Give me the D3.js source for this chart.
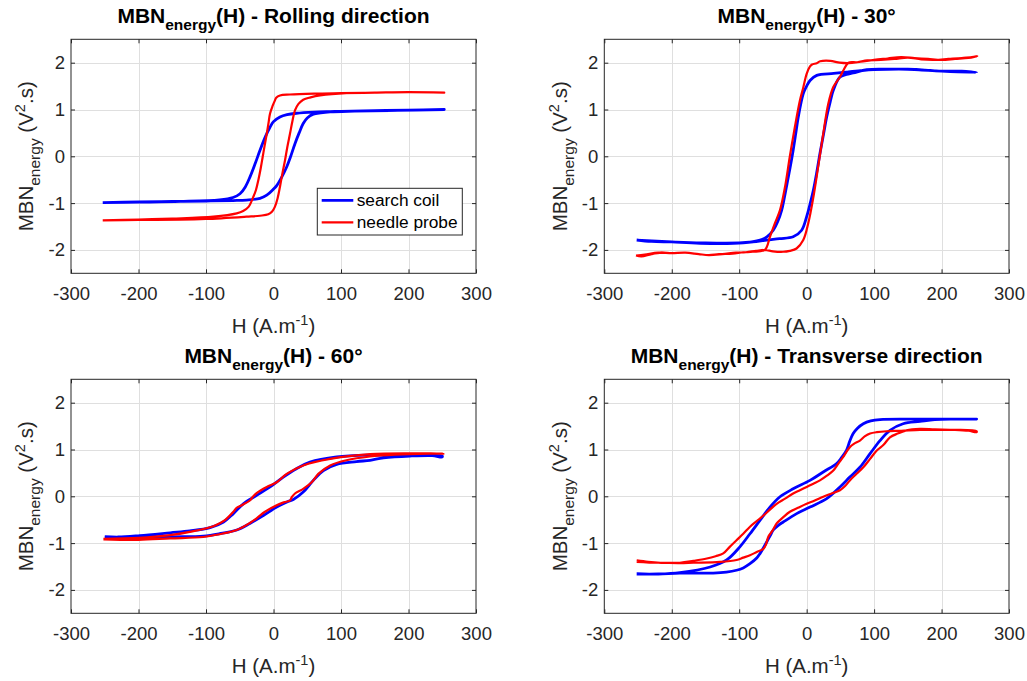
<!DOCTYPE html>
<html>
<head>
<meta charset="utf-8">
<script src="https://cdn.jsdelivr.net/npm/d3@7"></script>
<style>
  body { margin: 0; background: #fff; }
  svg { font-family: "Liberation Sans", Arial, Helvetica, sans-serif; }
</style>
</head>
<body>
<svg id="chart" width="1027" height="681"></svg>
<script>
// axis ticks shared by all four panels
const xTicks = [-300, -200, -100, 0, 100, 200, 300];
const yTicks = [-2, -1, 0, 1, 2];
const xDomain = [-300, 300];
const yDomain = [-2.5, 2.5];

const titles = ['(H) - Rolling direction', '(H) - 30°', '(H) - 60°', '(H) - Transverse direction'];
const seriesNames = ['search coil', 'needle probe'];

// [H, MBN energy]; each loop goes up (H increasing) then back down
const rollingCoil = [
  [-253,-0.99],[-200,-0.975],[-150,-0.965],[-100,-0.955],[-60,-0.945],[-40,-0.935],[-20,-0.9],[-10,-0.83],[0,-0.7],[5,-0.62],
  [12,-0.45],[19.5,-0.23],[25,-0.02],[31.8,0.27],[38,0.5],[44,0.7],[50,0.82],[59,0.9],[70,0.93],[84,0.95],[120,0.965],[180,0.98],[253,1.0],
  [200,0.985],[150,0.975],[100,0.96],[84,0.955],[60,0.945],[34,0.92],[20,0.89],[9.6,0.84],[0,0.74],[-5.2,0.62],[-12,0.42],[-20,0.13],
  [-27,-0.15],[-34.8,-0.44],[-42,-0.66],[-49.6,-0.8],[-60,-0.88],[-80,-0.93],[-138,-0.965],[-200,-0.98],[-253,-0.99]
];
const rollingProbe = [
  [-253,-1.37],[-200,-1.36],[-139,-1.355],[-100,-1.34],[-40,-1.29],[-20,-1.27],[-7.7,-1.24],[-2,-1.18],[2,-1.08],[6,-0.9],[9.6,-0.65],
  [13,-0.38],[17,-0.09],[20.5,0.2],[24.4,0.48],[28,0.75],[31.8,0.98],[37,1.12],[44,1.21],[55,1.26],[69,1.3],[108,1.35],[150,1.36],[200,1.37],[253,1.36],
  [200,1.37],[150,1.36],[100,1.35],[60,1.34],[24.4,1.32],[9.6,1.3],[4,1.25],[2,1.19],[-1.5,1.07],[-5.2,0.91],[-7.5,0.7],[-10,0.48],[-13,0.24],
  [-16,-0.01],[-19,-0.26],[-22.5,-0.51],[-26,-0.72],[-30,-0.87],[-37,-1.08],[-45,-1.17],[-54.5,-1.22],[-89,-1.29],[-150,-1.33],[-200,-1.35],[-253,-1.37]
];
const deg30Coil = [
  [-252,-1.79],[-230,-1.82],[-200,-1.83],[-150,-1.85],[-100,-1.85],[-80,-1.83],[-59,-1.79],[-40,-1.76],[-20,-1.72],[-7.4,-1.58],[0,-1.29],[5,-1.02],
  [10,-0.72],[15,-0.34],[19.7,0.06],[25,0.47],[29.7,0.84],[35,1.17],[39.5,1.41],[49,1.69],[59,1.75],[69,1.78],[89,1.85],[120,1.86],[150,1.86],[200,1.82],[230,1.82],[252,1.79],
  [200,1.82],[150,1.86],[100,1.85],[80,1.83],[59,1.8],[40,1.77],[15,1.73],[5,1.62],[0,1.5],[-5,1.34],[-12.4,0.84],[-16,0.5],[-20,0.13],[-24.5,-0.24],
  [-29,-0.58],[-33,-0.88],[-37,-1.15],[-43,-1.4],[-49.5,-1.58],[-59,-1.72],[-69,-1.79],[-94,-1.85],[-158,-1.86],[-200,-1.83],[-252,-1.79]
];
const deg30Probe = [
  [-253,-2.12],[-245,-2.14],[-230,-2.09],[-215,-2.06],[-200,-2.07],[-180,-2.06],[-160,-2.09],[-145,-2.11],[-125,-2.09],[-105,-2.06],[-90,-2.05],
  [-75,-2.02],[-62,-2.0],[-50,-2.03],[-35,-2.04],[-25,-2.02],[-15,-1.97],[-5,-1.79],[2.4,-1.43],[10,-0.87],[17,-0.23],[24.6,0.48],[32,1.12],
  [39.5,1.48],[49,1.69],[55,1.85],[62,2.0],[75,2.01],[90,2.05],[110,2.06],[130,2.08],[150,2.11],[170,2.07],[190,2.06],[210,2.08],[230,2.1],[245,2.12],[253,2.14],
  [240,2.1],[220,2.08],[200,2.06],[180,2.08],[160,2.1],[140,2.12],[120,2.09],[100,2.06],[80,2.02],[62,1.99],[49,2.0],[35,2.04],[20,2.03],[15,1.99],
  [8,1.96],[5,1.92],[0,1.76],[-5,1.47],[-10,1.19],[-17.4,0.63],[-25,-0.01],[-32,-0.65],[-39.5,-1.15],[-47,-1.43],[-54.4,-1.72],[-62,-2.0],[-80,-2.04],
  [-94,-2.05],[-110,-2.08],[-130,-2.09],[-145,-2.11],[-160,-2.09],[-180,-2.06],[-200,-2.07],[-220,-2.06],[-240,-2.1],[-253,-2.12]
];
const deg60Coil = [
  [-250,-0.88],[-200,-0.88],[-150,-0.865],[-104,-0.85],[-80,-0.8],[-54.5,-0.72],[-35,-0.58],[-15,-0.41],[4.7,-0.23],[20,-0.12],[29.4,-0.07],
  [44,0.09],[59,0.34],[74,0.55],[93.6,0.68],[123,0.74],[143,0.77],[163,0.82],[202,0.86],[235,0.87],[250,0.84],
  [250,0.86],[200,0.88],[143,0.88],[93.6,0.84],[54,0.73],[34,0.59],[14.5,0.41],[-5,0.2],[-25,0.02],[-44.7,-0.16],[-59.5,-0.37],[-74,-0.55],
  [-94,-0.67],[-124,-0.74],[-153,-0.78],[-198,-0.84],[-230,-0.87],[-250,-0.86]
];
const deg60Probe = [
  [-252,-0.92],[-200,-0.93],[-153,-0.9],[-104,-0.87],[-80,-0.81],[-54.5,-0.72],[-35,-0.57],[-25,-0.47],[-12.6,-0.33],[4.7,-0.19],[15,-0.13],
  [24.4,-0.09],[27,-0.02],[31.8,0.06],[44,0.16],[56.6,0.3],[66.4,0.48],[84,0.66],[108,0.77],[143,0.85],[180,0.89],[230,0.91],[252,0.91],
  [200,0.92],[143,0.9],[84,0.8],[44,0.66],[19.5,0.48],[4.7,0.3],[-10,0.2],[-25,0.07],[-30,0.0],[-35,-0.09],[-47,-0.19],[-55,-0.25],[-59.5,-0.33],
  [-72,-0.51],[-89,-0.64],[-124,-0.76],[-153,-0.83],[-200,-0.89],[-252,-0.91]
];
const transCoil = [
  [-252,-1.66],[-220,-1.66],[-188,-1.64],[-138.5,-1.64],[-119,-1.62],[-104,-1.58],[-94,-1.53],[-84,-1.44],[-74,-1.32],[-69,-1.22],[-64,-1.1],
  [-59,-0.97],[-54,-0.84],[-49.5,-0.72],[-42,-0.62],[-34.7,-0.55],[-14.8,-0.37],[5,-0.23],[29.7,-0.05],[49.4,0.2],[64,0.41],[79,0.62],[94,0.91],
  [108.7,1.19],[123.5,1.41],[143,1.55],[168,1.6],[190,1.64],[220,1.65],[252,1.65],
  [200,1.65],[150,1.65],[108.7,1.64],[95,1.61],[84,1.55],[75,1.45],[69,1.34],[64,1.18],[59,0.98],[52,0.83],[44.5,0.7],[24.6,0.52],[5,0.34],
  [-20,0.16],[-39.5,-0.01],[-54.4,-0.23],[-69,-0.51],[-84,-0.8],[-99,-1.08],[-118.6,-1.36],[-143,-1.51],[-188,-1.63],[-220,-1.66],[-252,-1.66]
];
const transProbe = [
  [-252,-1.37],[-235,-1.4],[-217,-1.42],[-188,-1.43],[-168,-1.42],[-128.6,-1.4],[-104,-1.36],[-94,-1.31],[-84,-1.26],[-74,-1.19],[-64,-1.12],
  [-60,-1.02],[-57,-0.87],[-50,-0.72],[-44.5,-0.58],[-35,-0.45],[-24.8,-0.33],[-12,-0.24],[0,-0.16],[12,-0.09],[24.6,-0.01],[37,0.06],[49.4,0.13],
  [57,0.22],[64,0.34],[74,0.48],[84,0.62],[94,0.8],[104,0.98],[114,1.1],[123.5,1.26],[135,1.34],[148,1.41],[168,1.44],[190,1.43],[220,1.42],[240,1.4],[252,1.37],
  [252,1.39],[220,1.42],[190,1.42],[168,1.42],[140,1.4],[118.6,1.39],[104,1.37],[94,1.34],[86,1.28],[79,1.19],[70,1.12],[64,1.05],[59,0.95],
  [54.3,0.84],[47,0.7],[39.5,0.55],[30,0.44],[19.7,0.34],[10,0.27],[0,0.2],[-10,0.13],[-20,0.06],[-32,-0.05],[-44.5,-0.16],[-54,-0.28],
  [-64,-0.41],[-74,-0.53],[-84,-0.65],[-94,-0.8],[-104,-0.94],[-114,-1.08],[-123.6,-1.22],[-135,-1.28],[-148,-1.33],[-168,-1.38],[-188,-1.42],
  [-220,-1.42],[-252,-1.4]
];

const colors = { coil: '#0000ff', probe: '#ff0000' };
const ink = '#262626';

// axes boxes in page pixels (MATLAB subplot layout)
const cols = [[71, 476], [604.3, 1009]];
const rows = [[39.3, 273.3], [379.3, 613.3]];

const panels = [
  { title: titles[0], col: 0, row: 0, coil: rollingCoil, probe: rollingProbe, legend: true },
  { title: titles[1], col: 1, row: 0, coil: deg30Coil, probe: deg30Probe },
  { title: titles[2], col: 0, row: 1, coil: deg60Coil, probe: deg60Probe },
  { title: titles[3], col: 1, row: 1, coil: transCoil, probe: transProbe }
];

const svg = d3.select('#chart');

function drawPanel(p) {
  const [left, right] = cols[p.col];
  const [top, bottom] = rows[p.row];
  const x = d3.scaleLinear().domain(xDomain).range([left, right]);
  const y = d3.scaleLinear().domain(yDomain).range([bottom, top]);
  const g = svg.append('g');

  // grid
  g.append('g').selectAll('line').data(xTicks.slice(1, -1)).enter().append('line')
    .attr('x1', d => Math.round(x(d)) + 0.5).attr('x2', d => Math.round(x(d)) + 0.5)
    .attr('y1', top).attr('y2', bottom)
    .attr('stroke', '#dfdfdf').attr('stroke-width', 1);
  g.append('g').selectAll('line').data(yTicks).enter().append('line')
    .attr('y1', d => Math.round(y(d)) + 0.5).attr('y2', d => Math.round(y(d)) + 0.5)
    .attr('x1', left).attr('x2', right)
    .attr('stroke', '#dfdfdf').attr('stroke-width', 1);

  // axes with inward ticks
  const fmt = d => String(d);
  const xAxis = g.append('g').attr('transform', `translate(0,${bottom})`)
    .call(d3.axisBottom(x).tickValues(xTicks).tickFormat(fmt).tickSizeInner(-4).tickSizeOuter(0).tickPadding(13.6));
  const xTop = g.append('g').attr('transform', `translate(0,${top})`)
    .call(d3.axisTop(x).tickValues(xTicks).tickFormat('').tickSizeInner(-4).tickSizeOuter(0));
  const yAxis = g.append('g').attr('transform', `translate(${left},0)`)
    .call(d3.axisLeft(y).tickValues(yTicks).tickFormat(fmt).tickSizeInner(-4).tickSizeOuter(0).tickPadding(6));
  const yRight = g.append('g').attr('transform', `translate(${right},0)`)
    .call(d3.axisRight(y).tickValues(yTicks).tickFormat('').tickSizeInner(-4).tickSizeOuter(0));
  [xAxis, xTop, yAxis, yRight].forEach(a => {
    a.select('.domain').remove();
    a.selectAll('line').attr('stroke', ink);
    a.selectAll('text').attr('fill', ink).style('font-size', '18.5px')
      .style('font-family', '"Liberation Sans", Arial, sans-serif');
  });

  g.append('rect').attr('x', left).attr('y', top)
    .attr('width', right - left).attr('height', bottom - top)
    .attr('fill', 'none').attr('stroke', ink).attr('stroke-width', 1);

  // loops
  const line = d3.line().x(d => x(d[0])).y(d => y(d[1])).curve(d3.curveCatmullRom.alpha(0.5));
  g.append('path').datum(p.coil).attr('d', line)
    .attr('fill', 'none').attr('stroke', colors.coil).attr('stroke-width', 2.8).attr('stroke-linejoin', 'round');
  g.append('path').datum(p.probe).attr('d', line)
    .attr('fill', 'none').attr('stroke', colors.probe).attr('stroke-width', 2.2).attr('stroke-linejoin', 'round');

  const cx = (left + right) / 2;
  const cy = (top + bottom) / 2;

  // title
  const t = g.append('text').attr('x', cx).attr('y', top - 16)
    .attr('text-anchor', 'middle').attr('fill', '#000').style('font-weight', 'bold').style('font-size', '21px');
  t.append('tspan').text('MBN');
  t.append('tspan').attr('dy', 7).style('font-size', '15.5px').text('energy');
  t.append('tspan').attr('dy', -7).text(p.title);

  // x label
  const xl = g.append('text').attr('x', cx).attr('y', bottom + 59.5)
    .attr('text-anchor', 'middle').attr('fill', ink).style('font-size', '20.5px');
  xl.append('tspan').text('H (A.m');
  xl.append('tspan').attr('dy', -8).style('font-size', '14.5px').text('-1');
  xl.append('tspan').attr('dy', 8).text(')');

  // y label
  const yl = g.append('text').attr('transform', `translate(${left - 37.7},${cy}) rotate(-90)`)
    .attr('text-anchor', 'middle').attr('fill', ink).style('font-size', '20.5px');
  yl.append('tspan').text('MBN');
  yl.append('tspan').attr('dy', 7).style('font-size', '15.5px').text('energy');
  yl.append('tspan').attr('dy', -7).text(' (V');
  yl.append('tspan').attr('dy', -8).style('font-size', '14.5px').text('2');
  yl.append('tspan').attr('dy', 8).text('.s)');

  if (p.legend) {
    const lx = 317.3, ly = 188.3, lw = 145, lh = 46.7;
    const lg = g.append('g');
    lg.append('rect').attr('x', lx).attr('y', ly).attr('width', lw).attr('height', lh)
      .attr('fill', '#fff').attr('stroke', ink).attr('stroke-width', 1);
    const items = [{ name: seriesNames[0], color: colors.coil, w: 2.8 }, { name: seriesNames[1], color: colors.probe, w: 2.2 }];
    lg.selectAll('g.item').data(items).enter().append('g').attr('class', 'item')
      .attr('transform', (d, i) => `translate(${lx},${ly + 12 + i * 22})`)
      .each(function (d) {
        const it = d3.select(this);
        it.append('line').attr('x1', 4.4).attr('x2', 36).attr('y1', 0).attr('y2', 0)
          .attr('stroke', d.color).attr('stroke-width', d.w);
        it.append('text').attr('x', 39.4).attr('y', 0).attr('dy', '0.35em')
          .attr('fill', '#000').style('font-size', '17.3px').text(d.name);
      });
  }
}

panels.forEach(drawPanel);
</script>
</body>
</html>
